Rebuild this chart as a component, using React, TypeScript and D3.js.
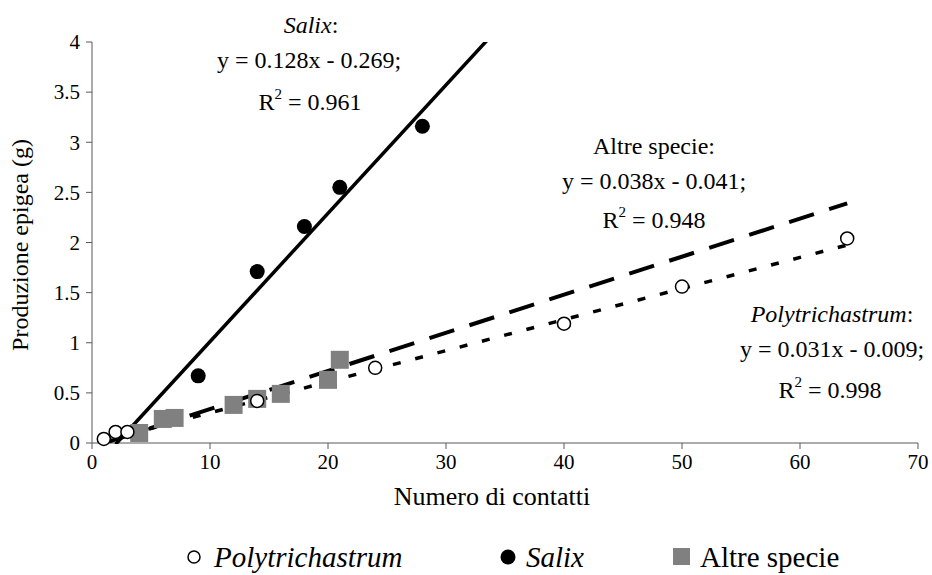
import React from "react";
import * as d3 from "d3";

const polyX = [1, 2, 3, 14, 24, 40, 50, 64];
const polyY = [0.04, 0.11, 0.11, 0.42, 0.75, 1.19, 1.56, 2.04];
const salixX = [9, 14, 18, 21, 28];
const salixY = [0.67, 1.71, 2.16, 2.55, 3.16];
const altreX = [4, 6, 7, 12, 14, 16, 20, 21];
const altreY = [0.1, 0.24, 0.25, 0.38, 0.44, 0.49, 0.63, 0.83];

const xTicks = [0, 10, 20, 30, 40, 50, 60, 70];
const yTicks = [0, 0.5, 1, 1.5, 2, 2.5, 3, 3.5, 4];

// trendlines: slope, intercept, x range
const salixFit = { m: 0.128, b: -0.269, x0: 2, x1: 34 };
const altreFit = { m: 0.038, b: -0.041, x0: 1.5, x1: 64 };
const polyFit = { m: 0.031, b: -0.009, x0: 1, x1: 64 };

const W = 932;
const H = 575;
const FONT = "Liberation Serif, Tinos, Times New Roman, DejaVu Serif, serif";
const AXIS = "#595959";

export default function App() {
  const x = d3.scaleLinear().domain([0, 70]).range([92, 918]);
  const y = d3.scaleLinear().domain([0, 4]).range([443, 42]);

  const fitPath = (f: { m: number; b: number; x0: number; x1: number }) =>
    d3
      .line<number>()
      .x((d) => x(d))
      .y((d) => y(f.m * d + f.b))([f.x0, f.x1]) as string;

  return (
    <svg
      width={W}
      height={H}
      style={{ position: "absolute", left: 0, top: 0, background: "#fff", fontFamily: FONT }}
    >
      <defs>
        <clipPath id="plot">
          <rect x={92} y={42} width={826} height={402} />
        </clipPath>
      </defs>
      {/* axes */}
      <line x1={92} x2={92} y1={42} y2={443} stroke={AXIS} strokeWidth={1} />
      <line x1={92} x2={918} y1={443} y2={443} stroke={AXIS} strokeWidth={1} />
      {yTicks.map((t) => (
        <g key={"y" + t}>
          <line x1={86} x2={92} y1={y(t)} y2={y(t)} stroke={AXIS} />
          <text x={80} y={y(t)} dy="0.35em" textAnchor="end" fontSize={21} style={{ fontFamily: FONT }}>
            {t}
          </text>
        </g>
      ))}
      {xTicks.map((t) => (
        <g key={"x" + t}>
          <line x1={x(t)} x2={x(t)} y1={443} y2={449} stroke={AXIS} />
          <text x={x(t)} y={469} textAnchor="middle" fontSize={21} style={{ fontFamily: FONT }}>
            {t}
          </text>
        </g>
      ))}
      <text x={492} y={505} textAnchor="middle" fontSize={26} style={{ fontFamily: FONT }}>
        Numero di contatti
      </text>
      <text
        transform={`translate(28,245) rotate(-90)`}
        textAnchor="middle"
        fontSize={24}
        style={{ fontFamily: FONT }}
      >
        Produzione epigea (g)
      </text>

      {/* trendlines */}
      <g clipPath="url(#plot)" fill="none" stroke="#000">
        <path d={fitPath(salixFit)} strokeWidth={3.5} />
        <path d={fitPath(altreFit)} strokeWidth={4} strokeDasharray="26 16" />
        <path d={fitPath(polyFit)} strokeWidth={3.5} strokeDasharray="8 15" />
      </g>

      {/* points */}
      {altreX.map((v, i) => (
        <rect
          key={"a" + i}
          x={x(v) - 9}
          y={y(altreY[i]) - 9}
          width={18}
          height={18}
          fill="#808080"
        />
      ))}
      {polyX.map((v, i) => (
        <circle
          key={"p" + i}
          cx={x(v)}
          cy={y(polyY[i])}
          r={6.5}
          fill="#fff"
          stroke="#000"
          strokeWidth={1.5}
        />
      ))}
      {salixX.map((v, i) => (
        <circle key={"s" + i} cx={x(v)} cy={y(salixY[i])} r={7.5} fill="#000" />
      ))}

      {/* annotations */}
      <g fontSize={24} textAnchor="middle" style={{ fontFamily: FONT }}>
        <text x={311} y={33} fontStyle="italic">
          Salix<tspan fontStyle="normal">:</tspan>
        </text>
        <text x={309} y={68}>y = 0.128x - 0.269;</text>
        <text x={310} y={110}>
          R<tspan dy={-11} fontSize={15}>2</tspan>
          <tspan dy={11}> = 0.961</tspan>
        </text>

        <text x={654} y={154}>Altre specie:</text>
        <text x={654} y={189}>y = 0.038x - 0.041;</text>
        <text x={654} y={228}>
          R<tspan dy={-11} fontSize={15}>2</tspan>
          <tspan dy={11}> = 0.948</tspan>
        </text>

        <text x={832} y={322}>
          <tspan fontStyle="italic">Polytrichastrum</tspan>:
        </text>
        <text x={832} y={357}>y = 0.031x - 0.009;</text>
        <text x={830} y={398}>
          R<tspan dy={-11} fontSize={15}>2</tspan>
          <tspan dy={11}> = 0.998</tspan>
        </text>
      </g>

      {/* legend */}
      <g fontSize={29} style={{ fontFamily: FONT }}>
        <circle cx={194} cy={557} r={6} fill="#fff" stroke="#000" strokeWidth={1.5} />
        <text x={214} y={567} fontStyle="italic">
          Polytrichastrum
        </text>
        <circle cx={508} cy={557} r={7.5} fill="#000" />
        <text x={526} y={567} fontStyle="italic">
          Salix
        </text>
        <rect x={673} y={548} width={17} height={17} fill="#808080" />
        <text x={700} y={567}>Altre specie</text>
      </g>
    </svg>
  );
}
